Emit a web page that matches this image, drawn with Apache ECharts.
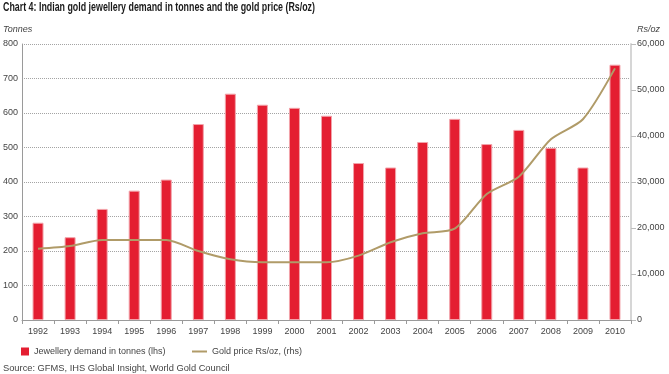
<!DOCTYPE html>
<html>
<head>
<meta charset="utf-8">
<script src="https://cdn.jsdelivr.net/npm/echarts@6/dist/echarts.min.js"></script>
<style>
html,body{margin:0;padding:0;background:#fff;}
#chart{width:669px;height:374px;}
</style>
</head>
<body>
<div id="chart"></div>
<script>
const years = ['1992','1993','1994','1995','1996','1997','1998','1999','2000','2001','2002','2003','2004','2005','2006','2007','2008','2009','2010'];
const demandTonnes = [282, 240, 322, 375, 407, 568, 656, 624, 615, 592, 455, 442, 516, 583, 510, 551, 499, 442, 740];
const goldPriceRs = [15500, 16100, 17400, 17400, 17400, 15000, 13200, 12550, 12550, 12550, 14000, 16900, 18850, 19850, 27400, 31150, 39300, 43650, 54700];
const leftTicks = [0, 800, 100];
const rightTicks = [0, 60000, 10000];

const FONT = '"Liberation Sans", Arial, sans-serif';

const titleText = 'Chart 4: Indian gold jewellery demand in tonnes and the gold price (Rs/oz)';
const titleFont = 'bold 12px ' + FONT;
const ctx = document.createElement('canvas').getContext('2d');
ctx.font = titleFont;
const titleW = ctx.measureText(titleText).width;
const titleScale = 312 / titleW;

const chart = echarts.init(document.getElementById('chart'));
chart.setOption({
  animation: false,
  backgroundColor: '#fff',
  textStyle: { fontFamily: FONT },
  grid: { left: 21, right: 38, top: 44, bottom: 54, containLabel: false },
  graphic: [
    { type: 'text', x: 3, y: 2, scaleX: titleScale, originX: 0, originY: 0,
      style: { text: titleText, font: titleFont, fill: '#1a1a1a' } },
    { type: 'text', left: 3, top: 25, style: { text: 'Tonnes', font: 'italic 9px ' + FONT, fill: '#444' } },
    { type: 'text', left: 637, top: 25, style: { text: 'Rs/oz', font: 'italic 9px ' + FONT, fill: '#444' } },
    { type: 'text', left: 3, top: 364, style: { text: 'Source: GFMS, IHS Global Insight, World Gold Council', font: '9.3px ' + FONT, fill: '#444' } }
  ],
  legend: [
    { left: 21, top: 347, padding: 0, itemWidth: 8, itemHeight: 8, icon: 'rect',
      data: ['Jewellery demand in tonnes (lhs)'],
      itemStyle: { borderWidth: 0 },
      textStyle: { fontSize: 9, color: '#444', fontFamily: FONT } },
    { left: 192, top: 347, padding: 0, itemWidth: 15, itemHeight: 2, icon: 'rect',
      data: ['Gold price Rs/oz, (rhs)'],
      textStyle: { fontSize: 9, color: '#444', fontFamily: FONT } }
  ],
  xAxis: {
    type: 'category',
    data: years,
    boundaryGap: true,
    axisLine: { lineStyle: { color: '#9a9a9a', width: 1 } },
    axisTick: { show: true, alignWithLabel: false, length: 4, lineStyle: { color: '#9a9a9a' } },
    axisLabel: { fontSize: 9, color: '#444', margin: 7, fontFamily: FONT, interval: 0 }
  },
  yAxis: [
    {
      type: 'value', min: leftTicks[0], max: leftTicks[1], interval: leftTicks[2],
      axisLine: { show: true, lineStyle: { color: '#9a9a9a', width: 1 } },
      axisTick: { show: false },
      axisLabel: { fontSize: 9, color: '#444', margin: 4, fontFamily: FONT },
      splitLine: { show: true, lineStyle: { type: [1, 1], color: '#a3a3a3', width: 1 } }
    },
    {
      type: 'value', min: rightTicks[0], max: rightTicks[1], interval: rightTicks[2],
      position: 'right',
      axisLine: { show: true, lineStyle: { color: '#d6d6d6', width: 2 } },
      axisTick: { show: true, length: 5, inside: false, lineStyle: { color: '#bdbdbd' } },
      axisLabel: { fontSize: 9, color: '#444', margin: 6, fontFamily: FONT,
        formatter: v => v.toLocaleString('en-US') },
      splitLine: { show: false }
    }
  ],
  series: [
    {
      name: 'Jewellery demand in tonnes (lhs)',
      type: 'bar',
      yAxisIndex: 0,
      data: demandTonnes,
      barWidth: 11,
      itemStyle: { color: '#e41e31', borderColor: '#f2a3aa', borderWidth: 1 }
    },
    {
      name: 'Gold price Rs/oz, (rhs)',
      type: 'line',
      yAxisIndex: 1,
      data: goldPriceRs,
      smooth: 0.25,
      symbol: 'none',
      lineStyle: { color: '#b09b68', width: 2 },
      itemStyle: { color: '#b09b68' }
    }
  ]
});
</script>
</body>
</html>
